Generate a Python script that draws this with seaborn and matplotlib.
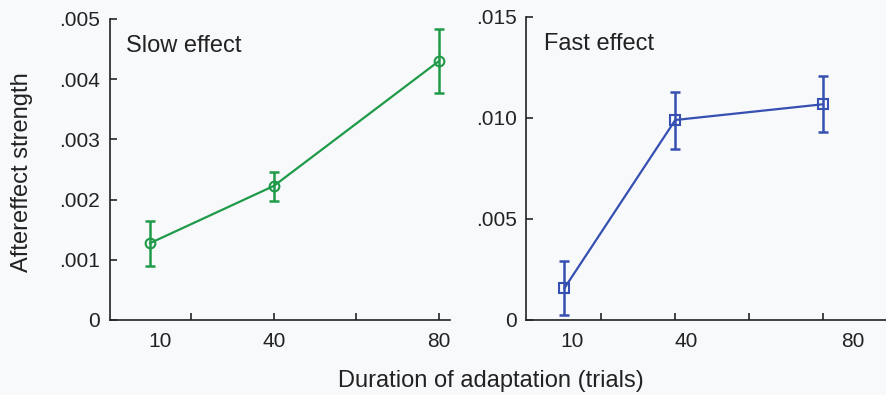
import numpy as np
import pandas as pd
import matplotlib
matplotlib.use("Agg")
import matplotlib.pyplot as plt
import seaborn as sns

# valores
duracao = [10, 40, 80]
lento = [0.001275, 0.002226, 0.0043]
lento_sup = [0.00165, 0.002464, 0.00483]
lento_inf = [0.000902, 0.001977, 0.00377]
rapido = [0.00157, 0.0099, 0.01068]
rapido_sup = [0.00294, 0.01129, 0.01208]
rapido_inf = [0.00026, 0.00847, 0.00929]

y_ticks_lento = [0, 0.001, 0.002, 0.003, 0.004, 0.005]
y_labels_lento = ["0", ".001", ".002", ".003", ".004", ".005"]
y_ticks_rapido = [0, 0.005, 0.010, 0.015]
y_labels_rapido = ["0", ".005", ".010", ".015"]
x_labels = ["10", "40", "80"]

sns.set_style("ticks")
plt.rcParams['font.family'] = ['Liberation Sans', 'DejaVu Sans']
fundo = "#f8f9fb"
verde = "#1f9a48"
azul = "#3650b2"
texto = "#222222"

fig = plt.figure(figsize=(8.86, 3.95), dpi=100, facecolor=fundo)
ax1 = fig.add_axes([0.124, 0.19, 0.384, 0.762])
ax2 = fig.add_axes([0.594, 0.19, 0.406, 0.767])

def painel(ax, y, sup, inf, cor, marcador, titulo, xlim, ylim, yt, yl, xlabpos):
    ax.set_facecolor(fundo)
    df = pd.DataFrame({"duracao": duracao, "efeito": y})
    erro = [np.array(y) - np.array(inf), np.array(sup) - np.array(y)]
    ax.errorbar(duracao, y, yerr=erro, fmt="none", ecolor=cor, elinewidth=1.8,
                capsize=3.5, capthick=1.8, zorder=2)
    sns.lineplot(data=df, x="duracao", y="efeito", ax=ax, color=cor, linewidth=1.6,
                 marker=marcador, markersize=7, markerfacecolor="none",
                 markeredgecolor=cor, markeredgewidth=1.5, zorder=3)
    ax.set_xlim(*xlim)
    ax.set_ylim(*ylim)
    ax.set_yticks(yt)
    ax.set_yticklabels(yl)
    ax.xaxis.remove_overlapping_locs = False
    ax.set_xticks([20, 40, 60, 80])
    ax.set_xticklabels([])
    ax.set_xticks(xlabpos, minor=True)
    ax.set_xticklabels(x_labels, minor=True)
    ax.tick_params(axis="x", which="major", direction="in", length=5, width=1.2)
    ax.tick_params(axis="x", which="minor", length=0, pad=9, labelsize=15,
                   labelcolor=texto)
    ax.tick_params(axis="y", direction="in", length=5, width=1.2, labelsize=15,
                   pad=7, labelcolor=texto)
    for s in ["top", "right"]:
        ax.spines[s].set_visible(False)
    for s in ["left", "bottom"]:
        ax.spines[s].set_linewidth(1.2)
        ax.spines[s].set_color(texto)
    ax.set_xlabel("")
    ax.set_ylabel("")
    ax.text(0.048, 0.89, titulo, transform=ax.transAxes, fontsize=17, color=texto)

painel(ax1, lento, lento_sup, lento_inf, verde, "o", "Slow effect",
       (0.3, 82.7), (0, 0.005), y_ticks_lento, y_labels_lento, [12.4, 40, 80])
painel(ax2, rapido, rapido_sup, rapido_inf, azul, "s", "Fast effect",
       (-0.3, 97), (0, 0.015), y_ticks_rapido, y_labels_rapido, [12, 43, 88])

fig.text(0.025, 0.565, "Aftereffect strength", rotation=90, ha="center", va="center",
         fontsize=17, color=texto)
fig.text(0.554, 0.035, "Duration of adaptation (trials)", ha="center", va="center",
         fontsize=17, color=texto)

fig.savefig("out.png", dpi=100, facecolor=fundo)
